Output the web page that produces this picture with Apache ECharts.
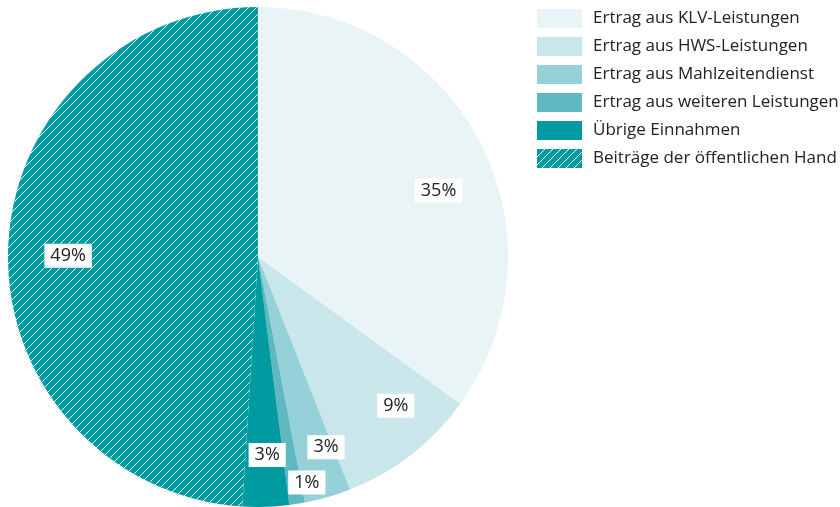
<!DOCTYPE html>
<html>
<head>
<meta charset="utf-8">
<script src="https://cdn.jsdelivr.net/npm/echarts@6/dist/echarts.min.js"></script>
<style>
  html, body { margin: 0; padding: 0; background: #fff; }
  #chart { width: 840px; height: 507px; }
</style>
</head>
<body>
<div id="chart"></div>
<script>
// Anteile in Prozent
const categories = [
  "Ertrag aus KLV-Leistungen",
  "Ertrag aus HWS-Leistungen",
  "Ertrag aus Mahlzeitendienst",
  "Ertrag aus weiteren Leistungen",
  "Übrige Einnahmen",
  "Beiträge der öffentlichen Hand"
];
const values = [35, 9, 3, 1, 3, 49];
const colors = ["#e8f4f6", "#c9e6ea", "#96d1da", "#5fb8bf", "#009ba0", "#009ba0"];

// feinkorrektur der beschriftungen (px)
const labelShift = [[5, 23], [17, -7], [13, 1], [18, 31], [3, 1], [7, 5]];

// schraffur für "Beiträge der öffentlichen Hand"
function makeHatch() {
  const c = document.createElement("canvas");
  c.width = 8;
  c.height = 8;
  const ctx = c.getContext("2d");
  ctx.fillStyle = "#009ba0";
  ctx.fillRect(0, 0, 8, 8);
  ctx.strokeStyle = "rgba(255,255,255,0.9)";
  ctx.lineWidth = 1;
  ctx.beginPath();
  ctx.moveTo(-1, 9); ctx.lineTo(9, -1);
  ctx.moveTo(-1, 1); ctx.lineTo(1, -1);
  ctx.moveTo(7, 9); ctx.lineTo(9, 7);
  ctx.stroke();
  return c;
}
const hatch = { image: makeHatch(), repeat: "repeat" };

const pieData = categories.map((name, i) => ({
  name: name,
  value: values[i],
  itemStyle: { color: i === 5 ? hatch : colors[i] }
}));

const labelData = categories.map((name, i) => ({ name: name, value: values[i] }));

const chart = echarts.init(document.getElementById("chart"));
chart.setOption({
  animation: false,
  textStyle: { fontFamily: "Open Sans" },
  legend: {
    orient: "vertical",
    left: 532,
    top: 4,
    itemWidth: 45,
    itemHeight: 19,
    itemGap: 9,
    icon: "rect",
    selectedMode: false,
    data: categories,
    textStyle: {
      fontSize: 17,
      lineHeight: 19,
      color: "#222",
      fontFamily: "Open Sans",
      padding: [0, 0, 0, 6]
    }
  },
  series: [
    {
      type: "pie",
      center: [258, 257],
      radius: [0, 250],
      startAngle: 90,
      clockwise: true,
      silent: true,
      label: { show: false },
      labelLine: { show: false },
      itemStyle: { borderWidth: 0 },
      data: pieData
    },
    {
      type: "pie",
      center: [258, 257],
      radius: [150, 238],
      startAngle: 90,
      clockwise: true,
      silent: true,
      legendHoverLink: false,
      itemStyle: { color: "rgba(0,0,0,0)", borderWidth: 0 },
      labelLine: { show: false },
      label: {
        show: true,
        position: "inside",
        formatter: "{c}%",
        fontSize: 18,
        lineHeight: 18,
        color: "#222",
        fontFamily: "Open Sans",
        backgroundColor: "#fff",
        padding: [3, 6, 3, 6]
      },
      labelLayout: function (p) {
        const s = labelShift[p.dataIndex];
        return { dx: s[0], dy: s[1] };
      },
      data: labelData
    }
  ]
});
</script>
</body>
</html>
